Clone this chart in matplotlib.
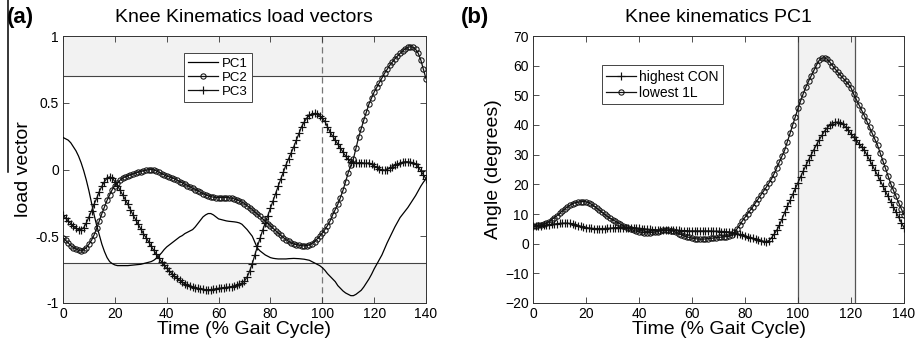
import matplotlib
matplotlib.use("Agg")
import matplotlib.pyplot as plt
from matplotlib.lines import Line2D
import numpy as np

plt.rcParams['font.family'] = ['Liberation Sans', 'DejaVu Sans']

# gait cycle samples, 0..140 %
t = np.arange(0, 141)

# (a) load vectors
pc1 = [0.24, 0.23, 0.22, 0.20, 0.17, 0.14, 0.10, 0.05, -0.01, -0.08,
       -0.16, -0.25, -0.34, -0.42, -0.49, -0.56, -0.615, -0.66, -0.69, -0.705,
       -0.715, -0.72, -0.72, -0.72, -0.72, -0.72, -0.718, -0.716, -0.714, -0.712,
       -0.71, -0.705, -0.70, -0.695, -0.69, -0.68, -0.665, -0.645, -0.625, -0.60,
       -0.58, -0.565, -0.55, -0.535, -0.52, -0.505, -0.495, -0.48, -0.47, -0.46,
       -0.45, -0.43, -0.405, -0.38, -0.355, -0.34, -0.33, -0.33, -0.34, -0.355,
       -0.37, -0.375, -0.38, -0.385, -0.388, -0.39, -0.392, -0.395, -0.40, -0.41,
       -0.43, -0.45, -0.475, -0.50, -0.545, -0.59, -0.61, -0.625, -0.64, -0.65,
       -0.66, -0.665, -0.668, -0.67, -0.67, -0.67, -0.67, -0.668, -0.667, -0.666,
       -0.667, -0.668, -0.67, -0.672, -0.676, -0.68, -0.69, -0.70, -0.71, -0.72,
       -0.735, -0.755, -0.78, -0.80, -0.82, -0.84, -0.87, -0.89, -0.91, -0.925,
       -0.935, -0.945, -0.945, -0.935, -0.92, -0.905, -0.88, -0.85, -0.82, -0.785,
       -0.745, -0.71, -0.675, -0.64, -0.595, -0.55, -0.51, -0.47, -0.43, -0.395,
       -0.36, -0.335, -0.31, -0.285, -0.255, -0.225, -0.195, -0.16, -0.125, -0.095,
       -0.07]

pc2 = [-0.51, -0.53, -0.55, -0.57, -0.585, -0.595, -0.605, -0.61, -0.60, -0.585,
       -0.56, -0.53, -0.49, -0.44, -0.385, -0.33, -0.28, -0.23, -0.19, -0.15,
       -0.12, -0.10, -0.08, -0.065, -0.055, -0.047, -0.04, -0.033, -0.027, -0.02,
       -0.015, -0.01, -0.005, -0.002, 0.0, -0.003, -0.01, -0.02, -0.03, -0.04,
       -0.05, -0.055, -0.062, -0.07, -0.08, -0.09, -0.10, -0.11, -0.12, -0.13,
       -0.14, -0.15, -0.16, -0.17, -0.18, -0.19, -0.197, -0.203, -0.207, -0.21,
       -0.21, -0.21, -0.21, -0.21, -0.212, -0.215, -0.22, -0.227, -0.235, -0.245,
       -0.255, -0.27, -0.285, -0.30, -0.318, -0.335, -0.352, -0.37, -0.388, -0.405,
       -0.422, -0.44, -0.458, -0.476, -0.494, -0.51, -0.525, -0.538, -0.55, -0.558,
       -0.563, -0.567, -0.57, -0.572, -0.57, -0.565, -0.555, -0.54, -0.52, -0.50,
       -0.475, -0.45, -0.42, -0.385, -0.34, -0.30, -0.26, -0.21, -0.155, -0.09,
       -0.025, 0.03, 0.08, 0.16, 0.24, 0.305, 0.37, 0.43, 0.49, 0.535,
       0.58, 0.615, 0.65, 0.685, 0.72, 0.75, 0.78, 0.805, 0.83, 0.85,
       0.87, 0.888, 0.905, 0.915, 0.92, 0.915, 0.90, 0.87, 0.82, 0.75,
       0.68]

pc3 = [-0.34, -0.365, -0.385, -0.405, -0.425, -0.44, -0.45, -0.45, -0.435, -0.40,
       -0.355, -0.31, -0.26, -0.215, -0.165, -0.125, -0.09, -0.065, -0.055, -0.065,
       -0.09, -0.12, -0.155, -0.19, -0.225, -0.26, -0.30, -0.34, -0.375, -0.41,
       -0.445, -0.48, -0.51, -0.54, -0.575, -0.605, -0.635, -0.665, -0.69, -0.715,
       -0.74, -0.76, -0.78, -0.80, -0.815, -0.83, -0.845, -0.855, -0.865, -0.875,
       -0.88, -0.885, -0.89, -0.895, -0.897, -0.90, -0.90, -0.90, -0.897, -0.893,
       -0.89, -0.888, -0.885, -0.883, -0.88, -0.877, -0.873, -0.868, -0.86, -0.85,
       -0.835, -0.805, -0.76, -0.705, -0.64, -0.575, -0.515, -0.455, -0.40, -0.345,
       -0.29, -0.235, -0.18, -0.125, -0.07, -0.02, 0.035, 0.08, 0.125, 0.17,
       0.22, 0.27, 0.32, 0.355, 0.385, 0.405, 0.417, 0.42, 0.415, 0.40,
       0.383, 0.36, 0.32, 0.28, 0.25, 0.22, 0.19, 0.16, 0.13, 0.10,
       0.075, 0.058, 0.05, 0.048, 0.05, 0.052, 0.048, 0.045, 0.05, 0.04,
       0.025, 0.015, 0.005, -0.003, -0.005, 0.0, 0.01, 0.02, 0.03, 0.04,
       0.048, 0.055, 0.058, 0.058, 0.055, 0.05, 0.04, 0.02, -0.01, -0.04,
       -0.07]

# (b) knee angle, degrees
highest_con = [5.8, 5.9, 6.0, 6.1, 6.2, 6.3, 6.4, 6.5, 6.6, 6.7,
               6.8, 6.9, 6.9, 6.9, 6.8, 6.6, 6.4, 6.1, 5.9, 5.6,
               5.4, 5.3, 5.2, 5.1, 5.1, 5.1, 5.1, 5.1, 5.2, 5.2,
               5.3, 5.4, 5.4, 5.4, 5.4, 5.4, 5.4, 5.4, 5.4, 5.3,
               5.2, 5.1, 5.0, 4.9, 4.8, 4.7, 4.7, 4.6, 4.6, 4.6,
               4.6, 4.6, 4.6, 4.5, 4.5, 4.5, 4.4, 4.4, 4.4, 4.3,
               4.3, 4.3, 4.3, 4.3, 4.3, 4.3, 4.3, 4.3, 4.2, 4.2,
               4.2, 4.1, 4.1, 4.0, 4.0, 3.8, 3.6, 3.4, 3.1, 2.9,
               2.6, 2.3, 2.0, 1.8, 1.6, 1.3, 1.0, 0.8, 0.7, 1.0,
               2.0, 3.2, 4.6, 6.2, 8.4, 10.6, 12.6, 14.6, 16.6, 18.6,
               20.6, 22.6, 24.5, 26.4, 28.2, 30.0, 31.7, 33.4, 35.0, 36.5,
               37.9, 39.0, 39.9, 40.5, 40.9, 41.0, 40.8, 40.2, 39.3, 38.2,
               37.0, 35.9, 34.8, 33.7, 32.6, 31.5, 29.9, 28.2, 26.5, 24.8,
               23.1, 21.3, 19.5, 17.7, 15.9, 14.1, 12.4, 10.6, 8.9, 7.1,
               5.4]

lowest_1l = [5.8, 6.0, 6.2, 6.4, 6.6, 6.8, 7.4, 8.1, 8.8, 9.4,
             10.2, 11.0, 11.7, 12.4, 13.0, 13.5, 13.8, 14.0, 14.1, 14.2,
             14.1, 13.8, 13.3, 12.7, 12.0, 11.3, 10.6, 9.9, 9.2, 8.6,
             8.1, 7.6, 7.1, 6.6, 6.1, 5.6, 5.2, 4.8, 4.5, 4.2,
             4.0, 3.8, 3.7, 3.7, 3.7, 3.8, 3.9, 4.1, 4.3, 4.5,
             4.5, 4.5, 4.4, 4.2, 3.8, 3.4, 3.0, 2.6, 2.3, 2.1,
             1.9, 1.7, 1.6, 1.5, 1.5, 1.6, 1.7, 1.8, 1.9, 2.0,
             2.1, 2.2, 2.3, 2.4, 2.5, 2.9, 3.8, 5.0, 6.2, 7.7,
             8.9, 10.1, 11.3, 12.5, 13.8, 15.1, 16.4, 17.7, 19.0, 20.4,
             21.8, 23.6, 25.6, 27.6, 29.6, 31.6, 34.4, 37.2, 40.0, 42.8,
             45.6, 48.2, 50.6, 52.8, 54.8, 56.6, 58.4, 60.2, 61.8, 62.6,
             62.6, 62.2, 61.2, 60.0, 58.9, 57.8, 56.8, 55.8, 54.8, 53.8,
             52.5, 50.4, 48.6, 46.8, 45.0, 43.2, 41.2, 39.2, 37.2, 35.2,
             33.2, 30.6, 28.0, 25.4, 22.8, 20.2, 18.0, 15.9, 13.8, 11.7,
             9.7]

threshold = 0.7
window = (100, 121.5)
shade = '#f2f2f2'
edge = '#333333'

fig = plt.figure(figsize=(9.2, 3.44), dpi=100)
ax1 = fig.add_axes([63 / 920, 41 / 344, 363 / 920, 267 / 344])
ax2 = fig.add_axes([533 / 920, 41 / 344, 371 / 920, 267 / 344])

circ = dict(color='#111111', lw=0.9, marker='o', ms=3.8, mfc='none',
            mec='#111111', mew=0.75)
plus = dict(color='#111111', lw=0.9, marker='+', ms=5.5, mew=0.85)


def matlab_axes(ax):
    ax.tick_params(direction='in', top=True, right=True, length=4,
                   width=0.6, color=edge, labelsize=10, pad=3)
    for s in ax.spines.values():
        s.set_color(edge)
        s.set_linewidth(0.7)
    ax.set_xlim(0, 140)
    ax.set_xticks(np.arange(0, 141, 20))
    ax.set_xlabel('Time (% Gait Cycle)', fontsize=14, labelpad=0)


# ---- (a)
ax1.axhspan(threshold, 1, color=shade, zorder=0, lw=0)
ax1.axhspan(-1, -threshold, color=shade, zorder=0, lw=0)
ax1.axhline(threshold, color='#444444', lw=0.8, zorder=1)
ax1.axhline(-threshold, color='#444444', lw=0.8, zorder=1)
ax1.axvline(100, color='#777777', lw=0.9, ls=(0, (5, 3)), zorder=1)

ax1.plot(t, pc1, color='black', lw=0.9, label='PC1', zorder=3)
ax1.plot(t, pc2, label='PC2', zorder=3, **circ)
ax1.plot(t, pc3, label='PC3', zorder=3, **plus)

matlab_axes(ax1)
ax1.set_ylim(-1, 1)
ax1.set_yticks([-1, -0.5, 0, 0.5, 1])
ax1.set_yticklabels(['-1', '-0.5', '0', '0.5', '1'])
ax1.set_ylabel('load vector', fontsize=14, labelpad=2)
leg1 = ax1.legend(loc='upper left', bbox_to_anchor=(0.333, 0.935),
                  fontsize=9.5, frameon=True, fancybox=False, framealpha=1,
                  edgecolor='#444444', handlelength=2.3, handletextpad=0.3,
                  borderpad=0.3, labelspacing=0.15, borderaxespad=0)
leg1.get_frame().set_linewidth(0.7)

# ---- (b)
ax2.axvspan(window[0], window[1], color=shade, zorder=0, lw=0)
ax2.axvline(window[0], color='#555555', lw=0.9, zorder=1)
ax2.axvline(window[1], color='#555555', lw=0.9, zorder=1)

ax2.plot(t, highest_con, label='highest CON', zorder=3, **plus)
ax2.plot(t, lowest_1l, label='lowest 1L', zorder=3, **circ)

matlab_axes(ax2)
ax2.set_ylim(-20, 70)
ax2.set_yticks(np.arange(-20, 71, 10))
ax2.set_ylabel('Angle (degrees)', fontsize=14, labelpad=2)
leg2 = ax2.legend(loc='upper left', bbox_to_anchor=(0.185, 0.89),
                  fontsize=10, frameon=True, fancybox=False, framealpha=1,
                  edgecolor='#444444', handlelength=2.2, handletextpad=0.2,
                  borderpad=0.3, labelspacing=0.2, borderaxespad=0)
leg2.get_frame().set_linewidth(0.7)

# titles and panel letters
fig.text(244 / 920, 1 - 18 / 344, 'Knee Kinematics load vectors',
         ha='center', va='center', fontsize=14)
fig.text(718 / 920, 1 - 18 / 344, 'Knee kinematics PC1',
         ha='center', va='center', fontsize=14)
fig.text(7 / 920, 1 - 18 / 344, '(a)', ha='left', va='center',
         fontsize=16, fontweight='bold')
fig.text(461 / 920, 1 - 18 / 344, '(b)', ha='left', va='center',
         fontsize=16, fontweight='bold')

# stray rule at the left edge of the original figure
fig.add_artist(Line2D([8 / 920, 8 / 920], [1, 1 - 172 / 344],
                      transform=fig.transFigure, color='black', lw=1.1))

fig.savefig('out.png', dpi=100)
